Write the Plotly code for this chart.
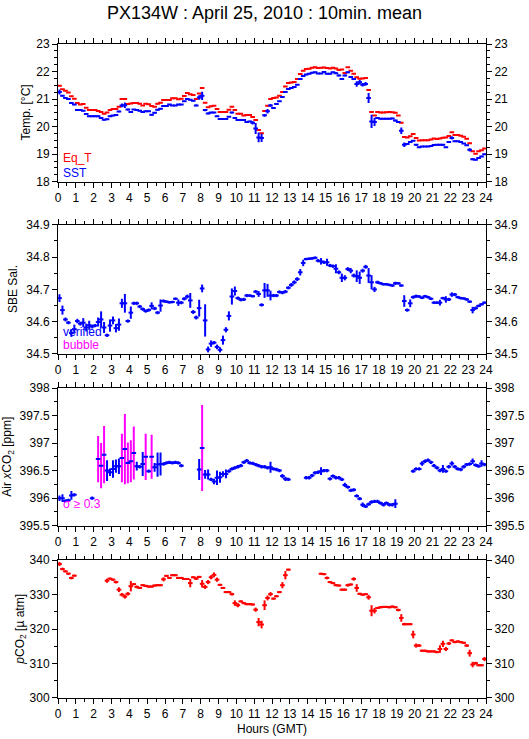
import plotly.graph_objects as go

N = None
# 10-minute bins over 24 h (bin index -> bin centre time)
hours = [(i + 0.5) / 6 for i in range(144)]
hour_ticks = list(range(0, 25))

eq_t = [21.48, 21.36, 21.30, 21.24, 21.10, 21.01,
        20.86, 20.80, 20.82, 20.69, 20.60, 20.60,
        20.60, 20.57, 20.53, 20.47, 20.51, 20.60,
        20.64, 20.64, 20.72, 21.00, 21.00, 20.82,
        20.84, 20.86, 20.86, 20.83, 20.77, 20.83,
        20.81, 20.75, 20.72, 20.83, 20.87, 20.97,
        20.97, 20.97, 21.03, 21.03, 20.99, 21.01,
        21.11, 21.22, 21.18, 21.15, 21.00, 21.20,
        21.40, 20.87, 20.70, 20.74, 20.76, 20.64,
        20.53, 20.53, 20.53, 20.61, 20.72, 20.60,
        20.47, 20.47, 20.40, 20.42, 20.42, 20.35,
        20.24, 19.88, 19.76, 20.57, 20.76, 21.00,
        21.04, 21.06, 21.12, 21.26, 21.46, 21.58,
        21.60, 21.62, 21.73, 21.91, 22.03, 22.09,
        22.10, 22.14, 22.16, 22.13, 22.14, 22.15,
        22.13, 22.11, 22.14, 22.11, 22.06, 22.07,
        21.95, 22.16, 22.03, 21.92, 21.79, 21.74,
        21.75, 21.77, 21.33, 20.53, 20.40, 20.53,
        20.51, 20.51, 20.52, 20.53, 20.52, 20.50,
        20.40, 20.14, 19.62, 19.61, 19.65, 19.73,
        19.59, 19.50, 19.51, 19.51, 19.51, 19.53,
        19.57, 19.55, 19.57, 19.60, 19.61, 19.66,
        19.80, 19.70, 19.70, 19.67, 19.63, 19.56,
        19.40, 19.11, 19.02, 19.11, 19.14, 19.21]

sst = [21.26, 21.12, 21.04, 21.00, 20.86, 20.80,
       20.60, 20.60, 20.58, 20.46, 20.38, 20.38,
       20.38, 20.38, 20.31, 20.25, 20.27, 20.38,
       20.40, 20.42, 20.55, 20.77, 20.78, 20.62,
       20.53, 20.62, 20.60, 20.58, 20.53, 20.56,
       20.56, 20.43, 20.50, 20.61, 20.65, 20.75,
       20.75, 20.80, 20.77, 20.77, 20.80, 20.80,
       20.92, 21.00, 20.98, 20.94, 20.77, 21.06,
       21.12, 20.60, 20.48, 20.51, 20.51, 20.38,
       20.28, 20.28, 20.28, 20.36, 20.51, 20.31,
       20.24, 20.24, 20.24, 20.17, 20.19, 20.14,
       19.93, 19.61, 19.59, 20.41, 20.56, 20.77,
       20.68, 20.82, 20.92, 21.08, 21.26, 21.37,
       21.40, 21.44, 21.52, 21.73, 21.84, 21.89,
       21.92, 21.96, 21.97, 21.93, 21.93, 21.98,
       21.92, 21.92, 21.97, 21.94, 21.86, 21.73,
       21.86, 21.97, 21.80, 21.73, 21.55, 21.61,
       21.52, 21.55, 21.04, 20.19, 20.17, 20.31,
       20.29, 20.29, 20.29, 20.29, 20.30, 20.22,
       20.17, 19.85, 19.34, 19.37, 19.44, 19.49,
       19.34, 19.25, 19.28, 19.28, 19.28, 19.30,
       19.33, 19.34, 19.34, 19.34, 19.25, 19.44,
       19.59, 19.47, 19.47, 19.44, 19.39, 19.32,
       19.16, 18.82, 18.80, 18.86, 18.92, 19.00]

sst_sd = [0.09, 0.03, 0.02, 0.02, 0.02, 0.02,
          0.02, 0.02, 0.02, 0.02, 0.02, 0.02,
          0.02, 0.02, 0.02, 0.02, 0.02, 0.02,
          0.02, 0.02, 0.03, 0.07, 0.10, 0.03,
          0.03, 0.02, 0.02, 0.02, 0.02, 0.02,
          0.02, 0.03, 0.02, 0.02, 0.02, 0.02,
          0.02, 0.02, 0.02, 0.02, 0.02, 0.02,
          0.02, 0.02, 0.02, 0.02, 0.03, 0.08,
          0.15, 0.04, 0.03, 0.02, 0.02, 0.02,
          0.02, 0.02, 0.02, 0.02, 0.03, 0.02,
          0.02, 0.02, 0.02, 0.02, 0.02, 0.06,
          0.20, 0.18, 0.15, 0.05, 0.08, 0.05,
          0.03, 0.03, 0.02, 0.02, 0.02, 0.02,
          0.02, 0.02, 0.02, 0.03, 0.02, 0.02,
          0.02, 0.02, 0.02, 0.02, 0.02, 0.02,
          0.02, 0.02, 0.02, 0.03, 0.03, 0.04,
          0.03, 0.03, 0.03, 0.03, 0.10, 0.08,
          0.06, 0.07, 0.18, 0.24, 0.15, 0.03,
          0.02, 0.02, 0.02, 0.02, 0.02, 0.03,
          0.03, 0.12, 0.08, 0.04, 0.03, 0.02,
          0.03, 0.02, 0.02, 0.02, 0.02, 0.02,
          0.02, 0.02, 0.02, 0.03, 0.02, 0.03,
          0.06, 0.02, 0.02, 0.02, 0.02, 0.02,
          0.06, 0.04, 0.02, 0.02, 0.02, 0.02]

sal = [34.673, 34.636, 34.607, 34.597, 34.565, 34.577,
       34.602, 34.594, 34.597, 34.582, 34.589, 34.585,
       34.588, 34.599, 34.607, 34.582, 34.558, 34.588,
       34.604, 34.580, 34.591, 34.657, 34.657, 34.602,
       34.628, 34.657, 34.657, 34.647, 34.639, 34.633,
       34.636, 34.649, 34.641, 34.628, 34.650, 34.664,
       34.662, 34.660, 34.661, 34.671, 34.659, 34.659,
       34.671, 34.678, 34.666, 34.630, 34.613, 34.642,
       34.703, 34.604, 34.514, 34.532, 34.535, 34.522,
       34.513, 34.543, 34.575, 34.618, 34.678, 34.695,
       34.673, 34.668, 34.669, 34.681, 34.681, 34.679,
       34.693, 34.686, 34.652, 34.697, 34.697, 34.681,
       34.681, 34.681, 34.692, 34.690, 34.693, 34.705,
       34.714, 34.722, 34.732, 34.753, 34.782, 34.794,
       34.795, 34.796, 34.798, 34.789, 34.787, 34.784,
       34.784, 34.774, 34.772, 34.764, 34.753, 34.736,
       34.736, 34.763, 34.758, 34.743, 34.741, 34.736,
       34.758, 34.770, 34.743, 34.722, 34.700, 34.722,
       34.719, 34.716, 34.716, 34.714, 34.712, 34.719,
       34.719, 34.712, 34.664, 34.636, 34.657, 34.676,
       34.679, 34.678, 34.674, 34.679, 34.676, 34.671,
       34.659, 34.659, 34.659, 34.673, 34.669, 34.669,
       34.684, 34.684, 34.676, 34.673, 34.672, 34.669,
       34.662, 34.636, 34.642, 34.649, 34.654, 34.659]

sal_sd = [0.012, 0.014, 0.006, 0.005, 0.012, 0.014,
          0.007, 0.006, 0.014, 0.012, 0.014, 0.006,
          0.005, 0.014, 0.025, 0.017, 0.005, 0.019,
          0.012, 0.013, 0.019, 0.014, 0.029, 0.005,
          0.019, 0.005, 0.005, 0.005, 0.005, 0.005,
          0.005, 0.011, 0.005, 0.005, 0.019, 0.005,
          0.004, 0.004, 0.004, 0.004, 0.010, 0.005,
          0.005, 0.006, 0.023, 0.006, 0.006, 0.026,
          0.012, 0.050, 0.009, 0.010, 0.005, 0.007,
          0.008, 0.014, 0.008, 0.014, 0.025, 0.014,
          0.005, 0.005, 0.005, 0.005, 0.004, 0.004,
          0.005, 0.009, 0.005, 0.023, 0.020, 0.015,
          0.005, 0.005, 0.005, 0.005, 0.005, 0.005,
          0.006, 0.006, 0.006, 0.010, 0.010, 0.004,
          0.004, 0.004, 0.004, 0.005, 0.010, 0.005,
          0.011, 0.005, 0.005, 0.014, 0.006, 0.013,
          0.008, 0.006, 0.008, 0.006, 0.018, 0.019,
          0.006, 0.006, 0.023, 0.022, 0.008, 0.005,
          0.004, 0.004, 0.004, 0.004, 0.004, 0.005,
          0.004, 0.004, 0.018, 0.005, 0.012, 0.005,
          0.005, 0.004, 0.004, 0.004, 0.004, 0.004,
          0.004, 0.004, 0.009, 0.004, 0.010, 0.005,
          0.007, 0.005, 0.004, 0.004, 0.004, 0.004,
          0.004, 0.010, 0.005, 0.004, 0.004, 0.004]

xco2 = [396.00, 396.00, 395.95, 395.96, 396.05, 396.06,
        N, N, N, N, N, 396.00,
        N, 396.71, 396.59, 396.79, 396.50, 396.47,
        396.53, 396.58, 396.58, 396.73, 396.89, 396.64,
        396.67, 396.82, 396.58, 396.57, 396.62, 396.75,
        396.49, 396.75, 396.56, 396.61, 396.62, 396.62,
        396.64, 396.65, 396.64, 396.65, 396.64, 396.59,
        N, N, N, N, N, 396.52,
        396.91, 396.43, 396.43, 396.34, 396.30, 396.37,
        396.38, 396.44, 396.44, 396.49, 396.53, 396.55,
        396.57, 396.59, 396.65, 396.68, 396.64, 396.63,
        396.61, 396.59, 396.57, 396.57, 396.55, 396.56,
        396.53, 396.52, 396.50, 396.40, 396.35, 396.34,
        N, N, N, N, N, 396.37,
        396.37, 396.41, 396.46, 396.47, 396.49, 396.50,
        396.50, 396.35, 396.40, 396.37, 396.37, 396.34,
        396.24, 396.20, 396.14, 396.15, 396.04, 395.99,
        395.88, 395.85, 395.89, 395.93, 395.94, 395.94,
        395.91, 395.88, 395.91, 395.88, 395.88, 395.90,
        N, N, N, N, N, 396.49,
        396.53, 396.53, 396.63, 396.67, 396.69, 396.65,
        396.59, 396.55, 396.50, 396.53, 396.49, 396.57,
        396.63, 396.57, 396.53, 396.52, 396.57, 396.61,
        396.62, 396.67, 396.60, 396.58, 396.63, 396.61]

xco2_sd = [0.05, 0.07, 0.03, 0.03, 0.08, 0.03,
           N, N, N, N, N, 0.03,
           N, 0.42, 0.41, 0.52, 0.19, 0.07,
           0.16, 0.12, 0.14, 0.44, 0.64, 0.37,
           0.38, 0.48, 0.08, 0.03, 0.22, 0.42,
           0.03, 0.40, 0.08, 0.22, 0.21, 0.03,
           0.03, 0.03, 0.03, 0.03, 0.03, 0.03,
           N, N, N, N, N, 0.19,
           0.78, 0.08, 0.09, 0.03, 0.05, 0.13,
           0.10, 0.05, 0.08, 0.03, 0.03, 0.03,
           0.03, 0.03, 0.03, 0.03, 0.03, 0.03,
           0.03, 0.03, 0.03, 0.03, 0.03, 0.10,
           0.03, 0.03, 0.03, 0.04, 0.04, 0.03,
           N, N, N, N, N, 0.03,
           0.03, 0.03, 0.03, 0.03, 0.07, 0.03,
           0.03, 0.03, 0.03, 0.03, 0.03, 0.03,
           0.04, 0.03, 0.03, 0.03, 0.03, 0.03,
           0.04, 0.03, 0.03, 0.03, 0.03, 0.03,
           0.03, 0.03, 0.03, 0.03, 0.03, 0.08,
           N, N, N, N, N, 0.03,
           0.03, 0.03, 0.04, 0.03, 0.03, 0.03,
           0.03, 0.03, 0.03, 0.07, 0.03, 0.03,
           0.04, 0.03, 0.03, 0.03, 0.03, 0.03,
           0.03, 0.05, 0.03, 0.03, 0.06, 0.03]

pco2 = [338.84, 337.39, 336.71, 336.04, 334.78, 335.46,
        N, N, N, N, N, N,
        N, N, N, N, 334.0, 334.6,
        334.3, 333.6, 331.4, 329.95, 329.4, 330.2,
        332.4, 333.0, 332.2, 331.9, 332.7, 332.5,
        332.3, 332.3, 332.6, 332.7, 332.7, 334.4,
        335.4, 334.8, 335.6, 335.6, 334.8, 334.8,
        334.5, 334.5, 333.3, 335.0, 334.6, 335.1,
        333.1, 332.2, 333.6, 335.0, 335.7, 334.3,
        332.8, 331.9, 330.7, 330.7, 330.1, 327.5,
        326.9, 328.0, 327.5, 327.2, 327.2, 327.1,
        325.6, 322.0, 321.3, 326.9, 329.0, 330.1,
        328.8, 329.5, 330.7, 332.7, 335.6, 337.2,
        N, N, N, N, N, N,
        N, N, N, N, 336.0, 335.9,
        334.8, 333.6, 333.3, 332.7, 332.6, 331.4,
        331.4, 332.7, 332.9, 334.5, 331.9, 330.2,
        329.95, 330.1, 329.2, 325.3, 325.3, 326.1,
        326.3, 326.4, 326.4, 326.3, 326.5, 326.3,
        325.5, 323.2, 321.4, 321.4, 321.4, 318.4,
        315.2, 315.2, 313.7, 313.7, 313.5, 313.5,
        313.5, 313.3, 314.2, 315.7, 314.2, 315.8,
        316.7, 316.2, 316.4, 316.2, 316.0, 315.2,
        313.0, 309.7, 310.1, 309.5, 309.5, 311.3]

pco2_sd = [0.6, 0.4, 0.3, 0.3, 0.4, 0.3,
           N, N, N, N, N, N,
           N, N, N, N, 0.6, 0.3,
           0.3, 0.4, 0.7, 0.5, 0.6, 0.5,
           1.5, 0.3, 0.4, 0.3, 0.3, 0.3,
           0.3, 0.3, 0.3, 0.3, 0.3, 0.6,
           0.3, 0.3, 0.3, 0.3, 0.3, 0.3,
           0.3, 0.3, 1.2, 0.3, 0.4, 0.3,
           1.1, 0.6, 0.6, 0.6, 0.7, 0.6,
           0.3, 0.3, 0.3, 0.3, 0.4, 0.8,
           0.6, 0.3, 0.3, 0.3, 0.3, 0.3,
           0.6, 1.2, 1.1, 1.4, 0.7, 0.6,
           0.3, 0.3, 0.3, 0.9, 1.2, 0.3,
           N, N, N, N, N, N,
           N, N, N, N, 0.3, 0.3,
           0.4, 0.3, 0.3, 0.3, 0.3, 0.3,
           0.3, 0.4, 0.3, 0.5, 1.1, 0.3,
           0.3, 0.3, 0.7, 1.6, 0.8, 0.3,
           0.3, 0.3, 0.3, 0.3, 0.3, 0.3,
           0.4, 1.1, 0.4, 0.3, 0.3, 1.1,
           0.6, 0.4, 0.3, 0.3, 0.3, 0.3,
           0.3, 0.3, 1.1, 0.9, 0.6, 0.4,
           0.3, 0.3, 0.3, 0.3, 0.3, 0.4,
           1.0, 0.8, 0.4, 0.3, 0.3, 0.6]

SIGMA_LIMIT = 0.3

RED = "#ff0000"
BLUE = "#0000ff"
MAGENTA = "#ff00ff"
FONT = "Liberation Sans, Arial, Helvetica, sans-serif"
HALF = 0.13      # half width of the horizontal bar (hours)
TH = 2

fig = go.Figure()


def add_cross(y, sd, color, xa, ya, ecolor=None, show_x=True):
    ey = dict(visible=False)
    if sd is not None:
        ey = dict(type="data", array=sd, color=ecolor or color,
                  thickness=TH, width=0, visible=True)
    fig.add_trace(go.Scatter(
        x=hours, y=y, mode="markers",
        marker=dict(size=1, color=color),
        error_x=dict(type="constant", value=HALF, color=color,
                     thickness=TH, width=0, visible=show_x),
        error_y=ey, xaxis=xa, yaxis=ya,
        showlegend=False, hoverinfo="skip"))


# panel 1
add_cross(eq_t, None, RED, "x", "y")
add_cross(sst, sst_sd, BLUE, "x", "y")
# panel 2
add_cross(sal, sal_sd, BLUE, "x2", "y2")
# panel 3 : large sigma in magenta
big_y = [v if (s is not None and s >= SIGMA_LIMIT) else None for v, s in zip(xco2, xco2_sd)]
big_sd = [s if (s is not None and s >= SIGMA_LIMIT) else None for s in xco2_sd]
small_sd = [(s if s < SIGMA_LIMIT else 0) if s is not None else None for s in xco2_sd]
add_cross(big_y, big_sd, MAGENTA, "x3", "y3", show_x=False)
add_cross(xco2, small_sd, BLUE, "x3", "y3")
# panel 4
add_cross(pco2, pco2_sd, RED, "x4", "y4")

panels = [
    dict(dom=[0.7894, 1.0], rng=[18, 23], dt=1, mn=0.25, fmt="", tx=-0.0756),
    dict(dom=[0.5260, 0.7235], rng=[34.5, 34.9], dt=0.1, mn=0.05, fmt=".1f", tx=-0.1037),
    dict(dom=[0.2635, 0.4740], rng=[395.5, 398], dt=0.5, mn=0.25, fmt="", tx=-0.1170),
    dict(dom=[0.0, 0.2110], rng=[300, 340], dt=10, mn=5, fmt="", tx=-0.0873),
]

xtickfont = dict(family=FONT, size=12, color="black")
ytickfont = dict(family=FONT, size=12, color="black")
layout = dict(
    template="none",
    width=529, height=739,
    margin=dict(l=58, r=43, t=44, b=41, autoexpand=False),
    paper_bgcolor="white", plot_bgcolor="white",
    showlegend=False, hovermode=False,
    font=dict(family=FONT, size=12, color="black"),
    title=dict(text="PX134W : April 25, 2010 : 10min. mean",
               x=0.5, xref="container", y=1 - 13 / 739, yref="container",
               yanchor="middle", xanchor="center",
               font=dict(family=FONT, size=18, color="black")),
)

for k, p in enumerate(panels, start=1):
    sfx = "" if k == 1 else str(k)
    layout["xaxis" + sfx] = dict(
        domain=[0, 1], anchor="y" + sfx, range=[0, 24], automargin=False,
        tickmode="array", tickvals=hour_ticks, ticktext=[str(h) for h in hour_ticks],
        ticks="outside", ticklen=5, tickwidth=1, tickcolor="black",
        minor=dict(dtick=0.5, tick0=0, ticks="outside", ticklen=3, tickcolor="black",
                   showgrid=False),
        showline=True, linecolor="black", linewidth=1, mirror="ticks",
        showgrid=False, zeroline=False, tickangle=0, tickfont=xtickfont)
    yax = dict(
        range=p["rng"], automargin=False,
        tick0=p["rng"][0], dtick=p["dt"], tickformat=p["fmt"],
        ticks="outside", ticklen=5, tickwidth=1, tickcolor="black",
        minor=dict(dtick=p["mn"], ticks="outside", ticklen=3, tickcolor="black",
                   showgrid=False),
        showgrid=False, zeroline=False, tickfont=ytickfont)
    layout["yaxis" + sfx] = dict(yax, domain=p["dom"], anchor="x" + sfx,
                                 showline=True, linecolor="black",
                                 linewidth=1, mirror=True)
    rk = str(k + 4)
    layout["yaxis" + rk] = dict(yax, overlaying="y" + sfx, anchor="x" + sfx,
                                side="right", showline=False)
    # invisible anchor trace so the right-hand axis is drawn
    fig.add_trace(go.Scatter(x=[0], y=[p["rng"][0]], mode="markers",
                             marker=dict(opacity=0), xaxis="x" + sfx,
                             yaxis="y" + rk, showlegend=False, hoverinfo="skip"))

fig.update_layout(**layout)

ytitles = ["Temp. [°C]", "SBE Sal.", "Air <i>x</i>CO<sub>2</sub> [ppm]",
           "<i>p</i>CO<sub>2</sub> [µ atm]"]
for p, t in zip(panels, ytitles):
    fig.add_annotation(text=t, xref="paper", yref="paper", x=p["tx"],
                       y=(p["dom"][0] + p["dom"][1]) / 2, textangle=-90,
                       showarrow=False, xanchor="center", yanchor="middle",
                       font=dict(family=FONT, size=12, color="black"))

labels = [("Eq_T", RED, 0.8257), ("SST", BLUE, 0.8035),
          ("verified", BLUE, 0.5596), ("bubble", MAGENTA, 0.5398),
          ("σ ≥ 0.3", MAGENTA, 0.2966)]
for t, c, yy in labels:
    fig.add_annotation(text=t, xref="paper", yref="paper", x=0.006, y=yy,
                       showarrow=False, xanchor="left", yanchor="middle",
                       font=dict(family=FONT, size=12, color=c))

fig.add_annotation(text="Hours (GMT)", xref="paper", yref="paper", x=0.5,
                   y=-0.0475, showarrow=False, xanchor="center", yanchor="middle",
                   font=dict(family=FONT, size=12, color="black"))

# remove the default 8px page margin so the 529x739 figure fills the window
fig.write_html("out.html",
               config={"displayModeBar": False, "staticPlot": True},
               post_script="document.body.style.margin='0';"
                           "document.body.style.overflow='hidden';")
